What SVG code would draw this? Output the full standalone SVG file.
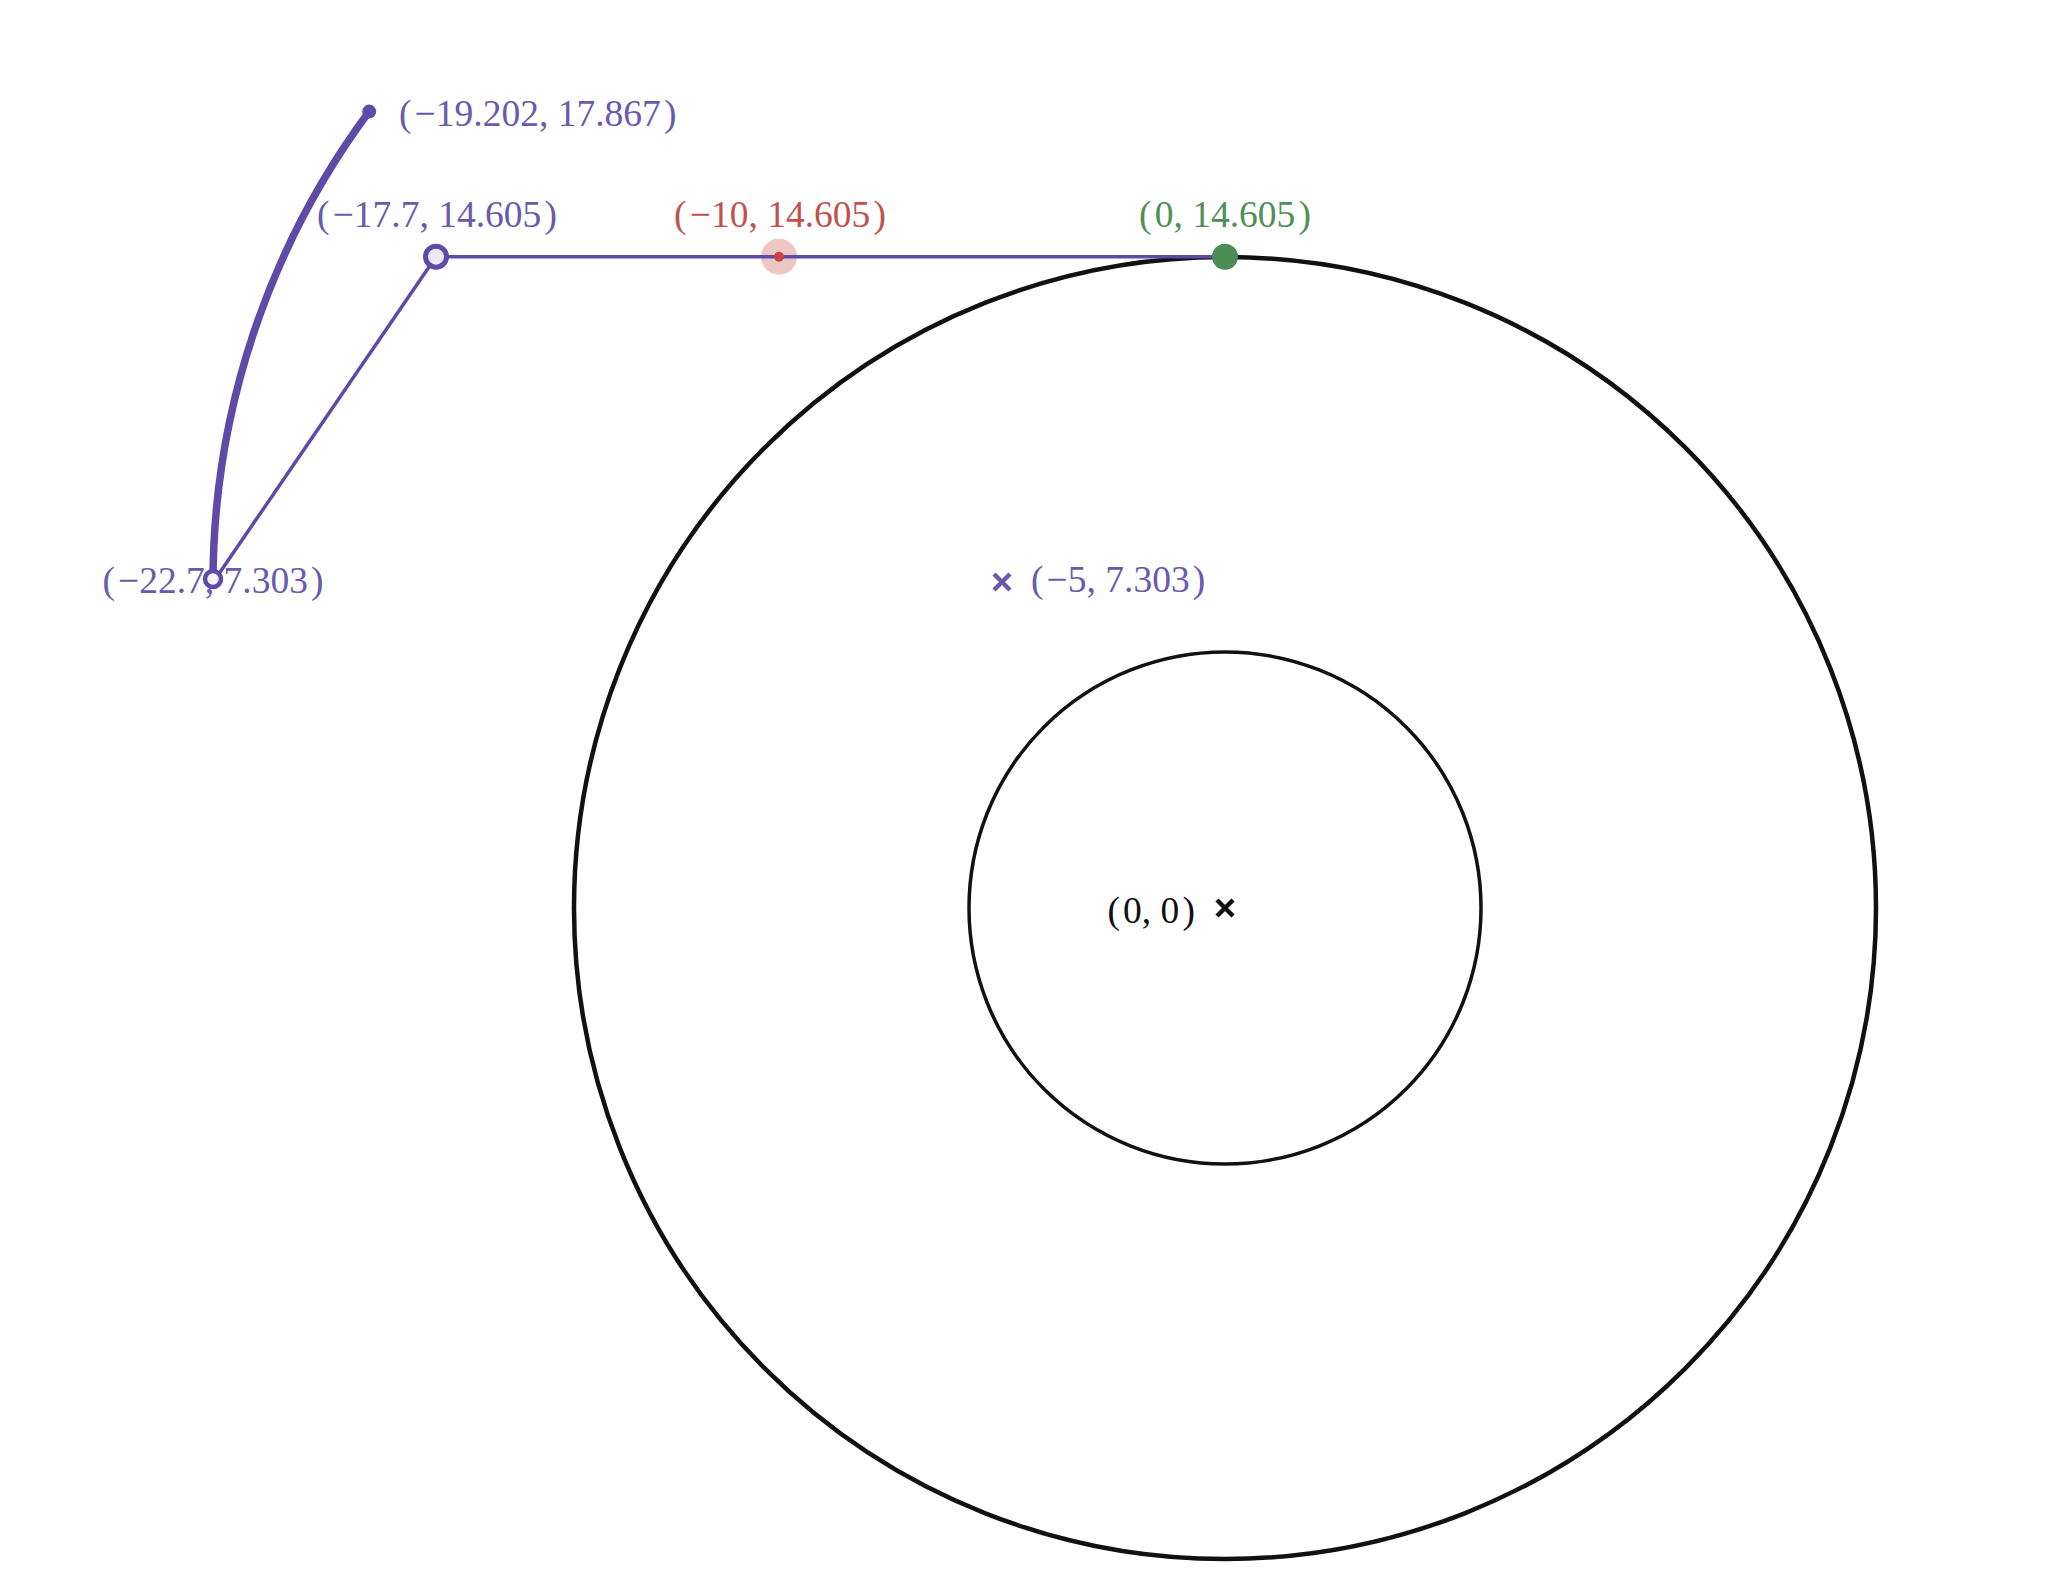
<svg xmlns="http://www.w3.org/2000/svg" width="2048" height="1589" viewBox="0 0 2048 1589">
<style>
text{font-family:"Liberation Serif","DejaVu Serif",serif;font-size:37.5px}
.pu{fill:#6a5aad}
.rd{fill:#c0524d}
.gr{fill:#4f8f58}
.bk{fill:#111}
.ring{fill:none;stroke:#111}
.pl{fill:none;stroke:#5f4ba7;stroke-linecap:round}
.xm{stroke-width:4.5;stroke-linecap:butt}
</style>
<rect width="2048" height="1589" fill="#fff"/>
<g id="circles">
<circle cx="1225" cy="908" r="651" class="ring" stroke-width="4.5"/>
<circle cx="1225" cy="908" r="256" class="ring" stroke-width="3.5"/>
</g>
<g id="halo"><circle cx="779" cy="256.7" r="18" fill="#c74440" fill-opacity="0.3"/></g>
<g id="connectors">
<path class="pl" stroke-width="7.5" d="M213,582.5 A789,789 0 0 1 369.2,111.6"/>
<path class="pl" stroke-width="3.5" d="M213,582.5 L436,256.7 L1225,256.7"/>
</g>
<g id="p-19.202">
<circle cx="369.2" cy="111.6" r="7" fill="#5f4ba7"/>
<text class="pu" x="399" y="126">(&#8202;−19.202, 17.867&#8202;)</text>
</g>
<g id="p-17.7">
<circle cx="436" cy="256.7" r="10.5" fill="#ebe8f5" stroke="#5f4ba7" stroke-width="5"/>
<text class="pu" x="437" y="227" text-anchor="middle">(&#8202;−17.7, 14.605&#8202;)</text>
</g>
<g id="p-10">
<circle cx="779" cy="256.7" r="5" fill="#c74440"/>
<text class="rd" x="780" y="227" text-anchor="middle">(&#8202;−10, 14.605&#8202;)</text>
</g>
<g id="p0-14">
<circle cx="1225" cy="256.7" r="13" fill="#4c8d55"/>
<text class="gr" x="1225" y="227" text-anchor="middle">(&#8202;0, 14.605&#8202;)</text>
</g>
<g id="p-22.7">
<text class="pu" x="213" y="593" text-anchor="middle">(&#8202;−22.7, 7.303&#8202;)</text>
<circle cx="213" cy="579" r="8" fill="#f4f2fa" stroke="#5f4ba7" stroke-width="4.5"/>
</g>
<g id="c-5">
<path class="xm" stroke="#6a5aad" d="M994,574 L1010,590 M1010,574 L994,590"/>
<text class="pu" x="1031" y="592">(&#8202;−5, 7.303&#8202;)</text>
</g>
<g id="c0">
<path class="xm" stroke="#111" d="M1217,900 L1233,916 M1233,900 L1217,916"/>
<text class="bk" x="1195" y="923" text-anchor="end">(&#8202;0, 0&#8202;)</text>
</g>
</svg>
